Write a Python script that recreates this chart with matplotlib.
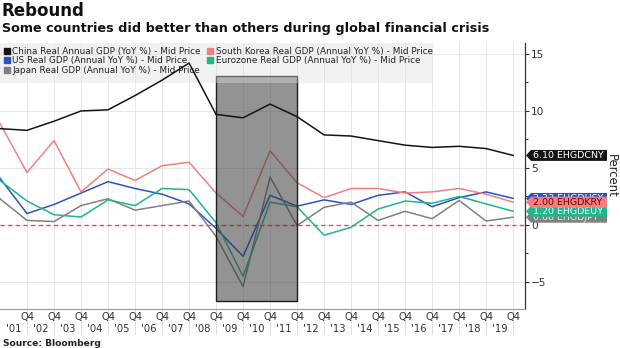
import matplotlib
matplotlib.use("Agg")
import matplotlib.pyplot as plt
import matplotlib.transforms as mtransforms
from matplotlib.lines import Line2D
from matplotlib.patches import Rectangle, Polygon

plt.rcParams["font.family"] = ["DejaVu Sans"]

# annual real GDP growth, value plotted at Q4 of each year
years = list(range(2000, 2020))
china = [8.45, 8.3, 9.1, 10.0, 10.1, 11.35, 12.7, 14.2, 9.7, 9.4, 10.6, 9.5, 7.9, 7.8, 7.4, 7.0, 6.8, 6.9, 6.7, 6.1]
korea = [8.9, 4.6, 7.4, 2.9, 4.9, 3.9, 5.2, 5.5, 2.8, 0.75, 6.5, 3.7, 2.4, 3.2, 3.2, 2.8, 2.9, 3.2, 2.7, 2.0]
us = [4.1, 1.0, 1.8, 2.8, 3.8, 3.2, 2.7, 1.85, -0.3, -2.75, 2.6, 1.65, 2.2, 1.8, 2.6, 2.9, 1.6, 2.4, 2.9, 2.33]
euro = [3.9, 2.1, 0.9, 0.7, 2.2, 1.7, 3.2, 3.1, 0.2, -4.5, 2.0, 1.6, -0.9, -0.2, 1.4, 2.1, 1.9, 2.5, 1.85, 1.2]
japan = [2.3, 0.4, 0.3, 1.7, 2.3, 1.3, 1.7, 2.1, -1.0, -5.4, 4.2, -0.05, 1.55, 2.0, 0.4, 1.2, 0.55, 2.15, 0.35, 0.68]

labels = ["China Real Annual GDP (YoY %) - Mid Price",
          "US Real GDP (Annual YoY %) - Mid Price",
          "Japan Real GDP (Annual YoY %) - Mid Price",
          "South Korea Real GDP (Annual YoY %) - Mid Price",
          "Eurozone Real GDP (Annual YoY %) - Mid Price"]
tickers = ["EHGDCNY", "EHGDUSY", "EHGDJPY", "EHGDKRY", "EHGDEUY"]
colors = ["#141414", "#2a52c9", "#808080", "#f47f7f", "#22b58c"]
tag_text = ["white", "white", "#e6e6e6", "#6e0000", "#e8fff6"]
series = [china, us, japan, korea, euro]

# shaded crisis period
crisis_start, crisis_end = 2008, 2011
crisis_low, crisis_high = -6.68, 13.06

fig = plt.figure(figsize=(6.2, 3.48), dpi=100)
ax = fig.add_axes([0, 39 / 348, 525 / 620, 266 / 348])

ax.set_xlim(2000, 2019.44)
ax.set_ylim(-7.37, 15.96)

ax.axhline(0, color="#ea4a55", lw=1.0, dashes=(3, 2.5), zorder=1)

line_z = [5, 2, 2, 2, 2]
for vals, col, z in zip(series, colors, line_z):
    ax.plot(years, vals, color=col, lw=1.1, zorder=z)

ax.add_patch(Rectangle((crisis_start, crisis_low), crisis_end - crisis_start,
                       crisis_high - crisis_low, facecolor=(0.23, 0.23, 0.23, 0.55),
                       edgecolor="#1e1e1e", lw=1.0, zorder=3))

# legend background + legend
ax.add_patch(Rectangle((0, 226 / 266), 432 / 525, 40 / 266, transform=ax.transAxes,
                       facecolor="#dcdcdc", alpha=0.4, edgecolor="none", zorder=4))
handles = [Line2D([], [], marker="s", ls="none", color=c, markersize=4.3) for c in colors]
leg = ax.legend(handles, labels, ncol=2, loc="upper left", bbox_to_anchor=(0, 1),
                frameon=False, fontsize=6.4, handlelength=0.6, handletextpad=0.35,
                columnspacing=0.75, labelspacing=0.05, borderaxespad=0, borderpad=0.45)
leg.set_zorder(4.5)
for t in leg.get_texts():
    t.set_color("#222222")

# axes styling
for s in ["left", "top"]:
    ax.spines[s].set_visible(False)
ax.spines["right"].set_color("#333333")
ax.spines["right"].set_linewidth(0.9)
ax.spines["bottom"].set_color("#9a9a9a")
ax.spines["bottom"].set_linewidth(0.8)

ax.yaxis.tick_right()
ax.set_yticks([-5, 0, 5, 10, 15])
ax.set_yticks([-2.5, 2.5, 7.5, 12.5], minor=True)
ax.tick_params(axis="y", which="major", length=3, width=0.8, color="#333333",
               labelsize=7.6, labelcolor="#333333", pad=1.5)
ax.tick_params(axis="y", which="minor", length=2, width=0.7, color="#333333")

q4_pos = years[1:]
ax.set_xticks(q4_pos, ["Q4"] * len(q4_pos))
ax.set_xticks([y - 0.5 for y in q4_pos], ["'" + str(y)[2:] for y in q4_pos], minor=True)
ax.tick_params(axis="x", which="major", length=18, width=0.7, color="#dedede",
               labelsize=7.2, labelcolor="#333333", pad=-15.8)
ax.tick_params(axis="x", which="minor", length=0, labelsize=7.2,
               labelcolor="#333333", pad=10.8)

ax.grid(axis="x", which="major", color="#e8e8e8", lw=0.7, zorder=0)
ax.grid(axis="y", which="major", color="#e8e8e8", lw=0.7, zorder=0)
ax.set_axisbelow(True)

# last value tags on the right axis
trans = mtransforms.blended_transform_factory(ax.transAxes, ax.transData)
px = 1 / 525
h = 0.48
tag_order = [2, 4, 1, 3, 0]  # japan, euro, us, korea, china
for k, i in enumerate(tag_order):
    v = series[i][-1]
    poly = Polygon([(1 + 1 * px, v), (1 + 6 * px, v + h), (1 + 82 * px, v + h),
                    (1 + 82 * px, v - h), (1 + 6 * px, v - h)], closed=True,
                   transform=trans, facecolor=colors[i], edgecolor="none",
                   clip_on=False, zorder=10 + 2 * k)
    ax.add_patch(poly)
    ax.text(1 + 8 * px, v, f"{v:.2f} {tickers[i]}", transform=trans, ha="left",
            va="center", fontsize=6.8, color=tag_text[i], clip_on=False,
            zorder=11 + 2 * k)

fig.text(611 / 620, 1 - 176 / 348, "Percent", rotation=270, ha="center", va="center",
         fontsize=8.4, color="#222222")

fig.text(0.003, 1 - 2 / 348, "Rebound", fontsize=12, fontweight="bold", va="top",
         color="#111111")
fig.text(0.003, 1 - 22 / 348, "Some countries did better than others during global financial crisis",
         fontsize=9.2, fontweight="bold", va="top", color="#111111")
fig.text(0.005, 1 - 343 / 348, "Source: Bloomberg", fontsize=6.6, fontweight="bold",
         va="center", color="#222222")

fig.savefig("out.png", dpi=100)
